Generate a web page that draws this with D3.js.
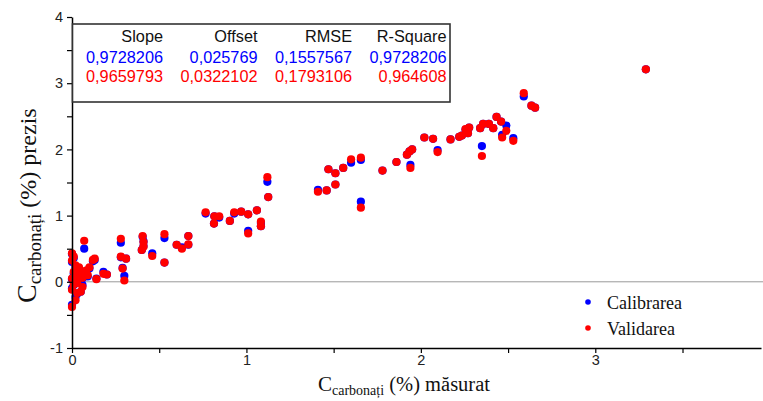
<!DOCTYPE html>
<html><head><meta charset="utf-8">
<script src="https://cdn.jsdelivr.net/npm/d3@7"></script>
<style>body{margin:0;background:#fff}svg{display:block}</style>
</head><body>
<svg id="chart" width="763" height="401"></svg>
<script>
// measured carbonate (%)
const measured = [0.00,0.01,0.00,0.02,0.01,0.03,0.00,0.02,0.01,0.00,0.03,0.05,0.02,0.00,0.07,0.05,0.08,0.06,0.04,0.10,0.12,0.13,0.09,0.14,0.18,0.20,0.03,0.06,
 0.28,0.28,0.31,0.29,0.30,0.405,0.41,0.41,0.40,0.46,0.53,0.53,0.60,0.63,0.667,0.667,
 0.766,0.816,0.844,0.814,0.905,0.93,0.97,1.01,1.06,1.01,1.083,1.083,1.125,1.12,
 1.41,1.46,1.51,1.47,1.51,1.555,1.60,1.656,1.656,1.78,1.86,1.92,1.935,1.95,1.94,
 2.02,2.07,2.096,2.17,2.22,2.235,2.256,2.277,2.27,2.34,2.357,2.39,2.415,2.35,2.434,2.46,2.49,2.466,2.53,2.59,2.634,2.655,3.29];
// predicted, calibration
const calib = [0.42,0.36,0.30,0.22,0.12,0.08,0.04,0.00,-0.05,-0.10,-0.18,-0.15,-0.23,-0.35,0.50,0.10,0.15,0.05,0.20,0.20,0.31,0.33,0.08,0.05,0.15,0.11,0.00,-0.05,
 0.59,0.37,0.35,0.21,0.09,0.68,0.61,0.54,0.48,0.43,0.66,0.29,0.56,0.52,0.69,0.56,
 1.03,0.99,0.97,0.88,0.92,1.03,1.06,1.02,1.08,0.77,0.89,0.84,1.28,1.51,
 1.39,1.38,1.47,1.70,1.64,1.72,1.80,1.84,1.21,1.68,1.81,1.92,1.97,2.00,1.765,
 2.18,2.16,1.99,2.15,2.19,2.21,2.30,2.33,2.245,2.32,2.385,2.385,2.32,2.05,2.49,2.42,2.36,2.22,2.17,2.80,2.66,2.63,3.21];
// predicted, validation
const valid = [0.43,0.38,0.32,0.25,0.15,0.10,0.05,0.02,-0.04,-0.12,-0.17,-0.15,-0.28,-0.38,0.62,0.12,0.17,0.06,0.22,0.22,0.33,0.35,0.10,0.04,0.12,0.11,-0.02,-0.08,
 0.65,0.38,0.35,0.20,0.02,0.69,0.60,0.53,0.48,0.39,0.72,0.29,0.56,0.50,0.69,0.565,
 1.05,0.99,0.99,0.88,0.92,1.05,1.06,1.02,1.08,0.73,0.91,0.84,1.28,1.58,
 1.36,1.38,1.47,1.70,1.64,1.72,1.85,1.875,1.12,1.68,1.81,1.92,1.97,2.00,1.72,
 2.18,2.16,1.96,2.15,2.19,2.21,2.305,2.33,2.245,2.32,2.385,2.385,2.32,1.90,2.49,2.42,2.28,2.18,2.13,2.85,2.66,2.63,3.21];

const seriesNames = ["Calibrarea","Validarea"];
const seriesColors = ["#0000ff","#ff0000"];
const tableHeader = ["Slope","Offset","RMSE","R-Square"];
const tableCalib = ["0,9728206","0,025769","0,1557567","0,9728206"];
const tableValid = ["0,9659793","0,0322102","0,1793106","0,964608"];
const xTicks = [0,0.5,1,1.5,2,2.5,3,3.5];
const yTicks = [-1,-0.5,0,0.5,1,1.5,2,2.5,3,3.5,4];

const svg = d3.select("#chart");
const x = d3.scaleLinear().domain([0, 3.95]).range([72, 761]);
const y = d3.scaleLinear().domain([-1, 4]).range([348, 17]);
const sans = "'Liberation Sans', Arial, sans-serif";
const serif = "'Liberation Serif', 'Times New Roman', serif";

// zero line
svg.append("line").attr("x1", x(0)).attr("x2", 763).attr("y1", y(0)).attr("y2", y(0))
  .attr("stroke", "#999").attr("stroke-width", 1);

// points
const pts = measured.map((m,i)=>({m, c: calib[i], v: valid[i]}));
svg.append("g").selectAll("circle").data(pts).join("circle")
  .attr("cx", d=>x(d.m)).attr("cy", d=>y(d.c)).attr("r", 4.1).attr("fill", seriesColors[0]);
svg.append("g").selectAll("circle").data(pts).join("circle")
  .attr("cx", d=>x(d.m)).attr("cy", d=>y(d.v)).attr("r", 4.1).attr("fill", seriesColors[1]);

// axes
const xAxis = d3.axisBottom(x).tickValues(xTicks).tickSize(5).tickSizeOuter(0).tickPadding(2)
  .tickFormat(d => Number.isInteger(d) ? d : "");
const gx = svg.append("g").attr("transform", `translate(0,${y(-1)})`).call(xAxis);
const yAxis = d3.axisLeft(y).tickValues(yTicks).tickSize(5).tickSizeOuter(0).tickPadding(4)
  .tickFormat(d => Number.isInteger(d) ? d : "");
const gy = svg.append("g").attr("transform", `translate(${x(0)},0)`).call(yAxis);
[gx, gy].forEach(g => {
  g.select(".domain").attr("stroke", "#000").attr("stroke-width", 1.5);
  g.selectAll(".tick line").attr("stroke", "#000").attr("stroke-width", 1.2);
  g.selectAll("text").attr("font-family", sans).attr("font-size", 14.5).attr("fill", "#222");
});

// table box
svg.append("rect").attr("x", 72.5).attr("y", 24).attr("width", 377.5).attr("height", 78)
  .attr("fill", "#fff").attr("stroke", "#333").attr("stroke-width", 1.6);
const colX = [163, 257.5, 352, 446.5];
const rows = [{vals: tableHeader, col: "#111", yy: 42}, {vals: tableCalib, col: seriesColors[0], yy: 62.5}, {vals: tableValid, col: seriesColors[1], yy: 82}];
rows.forEach(r => {
  svg.append("g").selectAll("text").data(r.vals).join("text")
    .attr("x", (d,i)=>colX[i]).attr("y", r.yy).attr("text-anchor", "end")
    .attr("font-family", sans).attr("font-size", 16.3).attr("fill", r.col).text(d=>d);
});

// legend
const legendLen = [75, 68];
seriesNames.forEach((n,i) => {
  const ly = 302 + i*26;
  svg.append("circle").attr("cx", 588).attr("cy", ly).attr("r", 2.8).attr("fill", seriesColors[i]);
  svg.append("text").attr("x", 607).attr("y", ly + 7).attr("font-family", serif).attr("font-size", 19)
    .attr("textLength", legendLen[i]).attr("lengthAdjust", "spacingAndGlyphs")
    .attr("fill", "#111").text(n);
});

// axis titles
const xt = svg.append("text").attr("x", 318).attr("y", 391)
  .attr("font-family", serif).attr("font-size", 21).attr("fill", "#111");
xt.append("tspan").text("C");
xt.append("tspan").attr("font-size", 14).attr("dy", 4).text("carbonați");
xt.append("tspan").attr("font-size", 20.5).attr("dy", -4).text(" (%) măsurat");

const yt = svg.append("text").attr("transform", "translate(36,303) rotate(-90)")
  .attr("font-family", serif).attr("font-size", 28).attr("fill", "#111");
yt.append("tspan").text("C");
yt.append("tspan").attr("font-size", 19).attr("dy", 5).text("carbonați");
yt.append("tspan").attr("font-size", 24).attr("dy", -5).text(" (%) prezis");
</script>
</body></html>
